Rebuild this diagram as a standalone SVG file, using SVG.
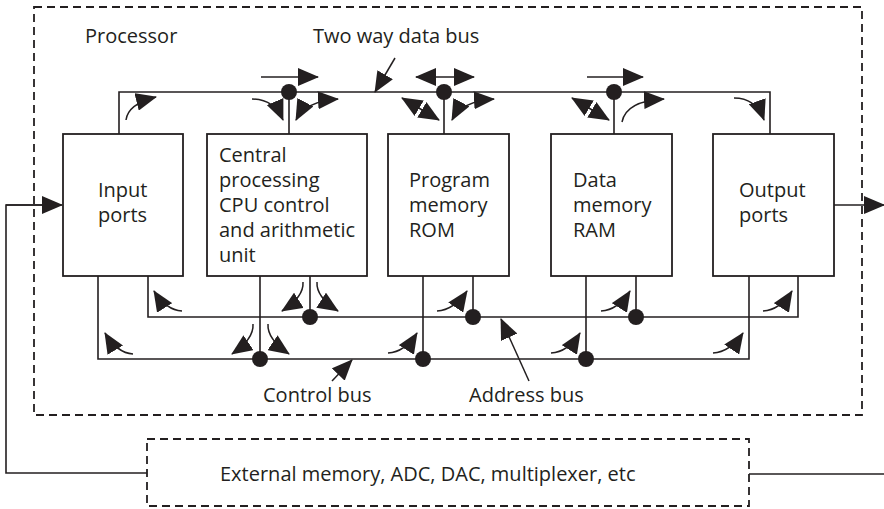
<svg xmlns="http://www.w3.org/2000/svg" width="884" height="509" viewBox="0 0 884 509">
<style>
.t{font-family:"Open Sans","Liberation Sans",sans-serif;font-size:20px;fill:#231f20}
.box{fill:#fff;stroke:#231f20;stroke-width:1.8}
.dash{fill:none;stroke:#231f20;stroke-width:1.8;stroke-dasharray:8 5}
.ln{fill:none;stroke:#231f20;stroke-width:1.6}
.ar{fill:none;stroke:#231f20;stroke-width:1.5;marker-end:url(#ah)}
.ar2{fill:none;stroke:#231f20;stroke-width:1.5;marker-start:url(#ah);marker-end:url(#ah)}
.dot{fill:#231f20}
</style>
<defs>
<marker id="ah" markerWidth="21" markerHeight="18" refX="20" refY="9" orient="auto-start-reverse" markerUnits="userSpaceOnUse" viewBox="0 0 21 18">
<path d="M0,0 L21,9 L0,18 z" fill="#231f20"/>
</marker>
</defs>
<rect width="884" height="509" fill="#fff"/>

<g id="processor">
<rect class="dash" x="34" y="7" width="828" height="408"/>
<text class="t" x="85" y="43">Processor</text>
</g>

<g id="external">
<rect class="dash" x="147" y="439" width="602" height="67" stroke-width="1.5"/>
<text class="t" x="220" y="481">External memory, ADC, DAC, multiplexer, etc</text>
</g>

<g id="connectors">
<path class="ln" d="M119,134 V92 H770 V134"/>
<path class="ln" d="M289,92 V134 M444,92 V134 M614,92 V134"/>
<path class="ln" d="M148,276 V317 H798 V276"/>
<path class="ln" d="M98,276 V359 H749 V276"/>
<path class="ln" d="M260,276 V359 M310,276 V317 M423,276 V359 M473,276 V317 M586,276 V359 M636,276 V317"/>
<circle class="dot" cx="289" cy="92" r="8"/>
<circle class="dot" cx="444" cy="92" r="8"/>
<circle class="dot" cx="614" cy="92" r="8"/>
<circle class="dot" cx="310" cy="317" r="8"/>
<circle class="dot" cx="473" cy="317" r="8"/>
<circle class="dot" cx="636" cy="317" r="8"/>
<circle class="dot" cx="260" cy="359" r="8"/>
<circle class="dot" cx="423" cy="359" r="8"/>
<circle class="dot" cx="586" cy="359" r="8"/>
<!-- external links -->
<path class="ln" d="M147,473 H6 V205 H50"/>
<path class="ar" d="M6,205 H62"/>
<path class="ln" d="M749,474 H884"/>
<path class="ar" d="M834,205 H884"/>
<!-- data bus flow arrows -->
<path class="ar" d="M126,120 Q128,104 156,97"/>
<path class="ar" d="M261,77 H318"/>
<path class="ar" d="M252,99 Q274,99 283,120"/>
<path class="ar2" d="M296,120 Q306,101 338,99"/>
<path class="ar2" d="M416,77 H474"/>
<path class="ar2" d="M402,98 L439,120"/>
<path class="ar2" d="M452,120 Q462,101 494,99"/>
<path class="ar" d="M587,77 H643"/>
<path class="ar2" d="M572,98 L609,120"/>
<path class="ar" d="M622,122 Q626,101 664,99"/>
<path class="ar" d="M734,98 Q756,98 764,120"/>
<!-- address bus flow arrows -->
<path class="ar" d="M182,311 Q166,310 154,291"/>
<path class="ar" d="M303,282 Q304,297 282,311"/>
<path class="ar" d="M317,282 Q316,297 338,311"/>
<path class="ar" d="M437,311 Q454,310 467,291"/>
<path class="ar" d="M601,311 Q618,310 630,291"/>
<path class="ar" d="M763,311 Q780,310 792,291"/>
<!-- control bus flow arrows -->
<path class="ar" d="M133,354 Q117,353 105,333"/>
<path class="ar" d="M253,324 Q254,339 232,354"/>
<path class="ar" d="M268,324 Q267,339 289,354"/>
<path class="ar" d="M388,353 Q405,352 417,333"/>
<path class="ar" d="M551,353 Q568,352 580,333"/>
<path class="ar" d="M713,353 Q730,352 743,333"/>
<!-- bus labels -->
<path class="ar" d="M395,58 L375,92"/>
<text class="t" x="313" y="43">Two way data bus</text>
<path class="ar" d="M332,381 L352,360"/>
<text class="t" x="263" y="402">Control bus</text>
<path class="ar" d="M529,381 L501,319"/>
<text class="t" x="469" y="402">Address bus</text>
</g>

<g id="input">
<rect class="box" x="63" y="134" width="120" height="142"/>
<text class="t" x="98" y="197">Input</text>
<text class="t" x="98" y="222">ports</text>
</g>

<g id="cpu">
<rect class="box" x="207" y="134" width="160" height="142"/>
<text class="t" x="219" y="162">Central</text>
<text class="t" x="219" y="187">processing</text>
<text class="t" x="219" y="212">CPU control</text>
<text class="t" x="219" y="237">and arithmetic</text>
<text class="t" x="219" y="262">unit</text>
</g>

<g id="rom">
<rect class="box" x="388" y="134" width="121" height="142"/>
<text class="t" x="409" y="187">Program</text>
<text class="t" x="409" y="212">memory</text>
<text class="t" x="409" y="237">ROM</text>
</g>

<g id="ram">
<rect class="box" x="551" y="134" width="121" height="142"/>
<text class="t" x="573" y="187">Data</text>
<text class="t" x="573" y="212">memory</text>
<text class="t" x="573" y="237">RAM</text>
</g>

<g id="output">
<rect class="box" x="713" y="134" width="121" height="142"/>
<text class="t" x="739" y="197">Output</text>
<text class="t" x="739" y="222">ports</text>
</g>
</svg>
